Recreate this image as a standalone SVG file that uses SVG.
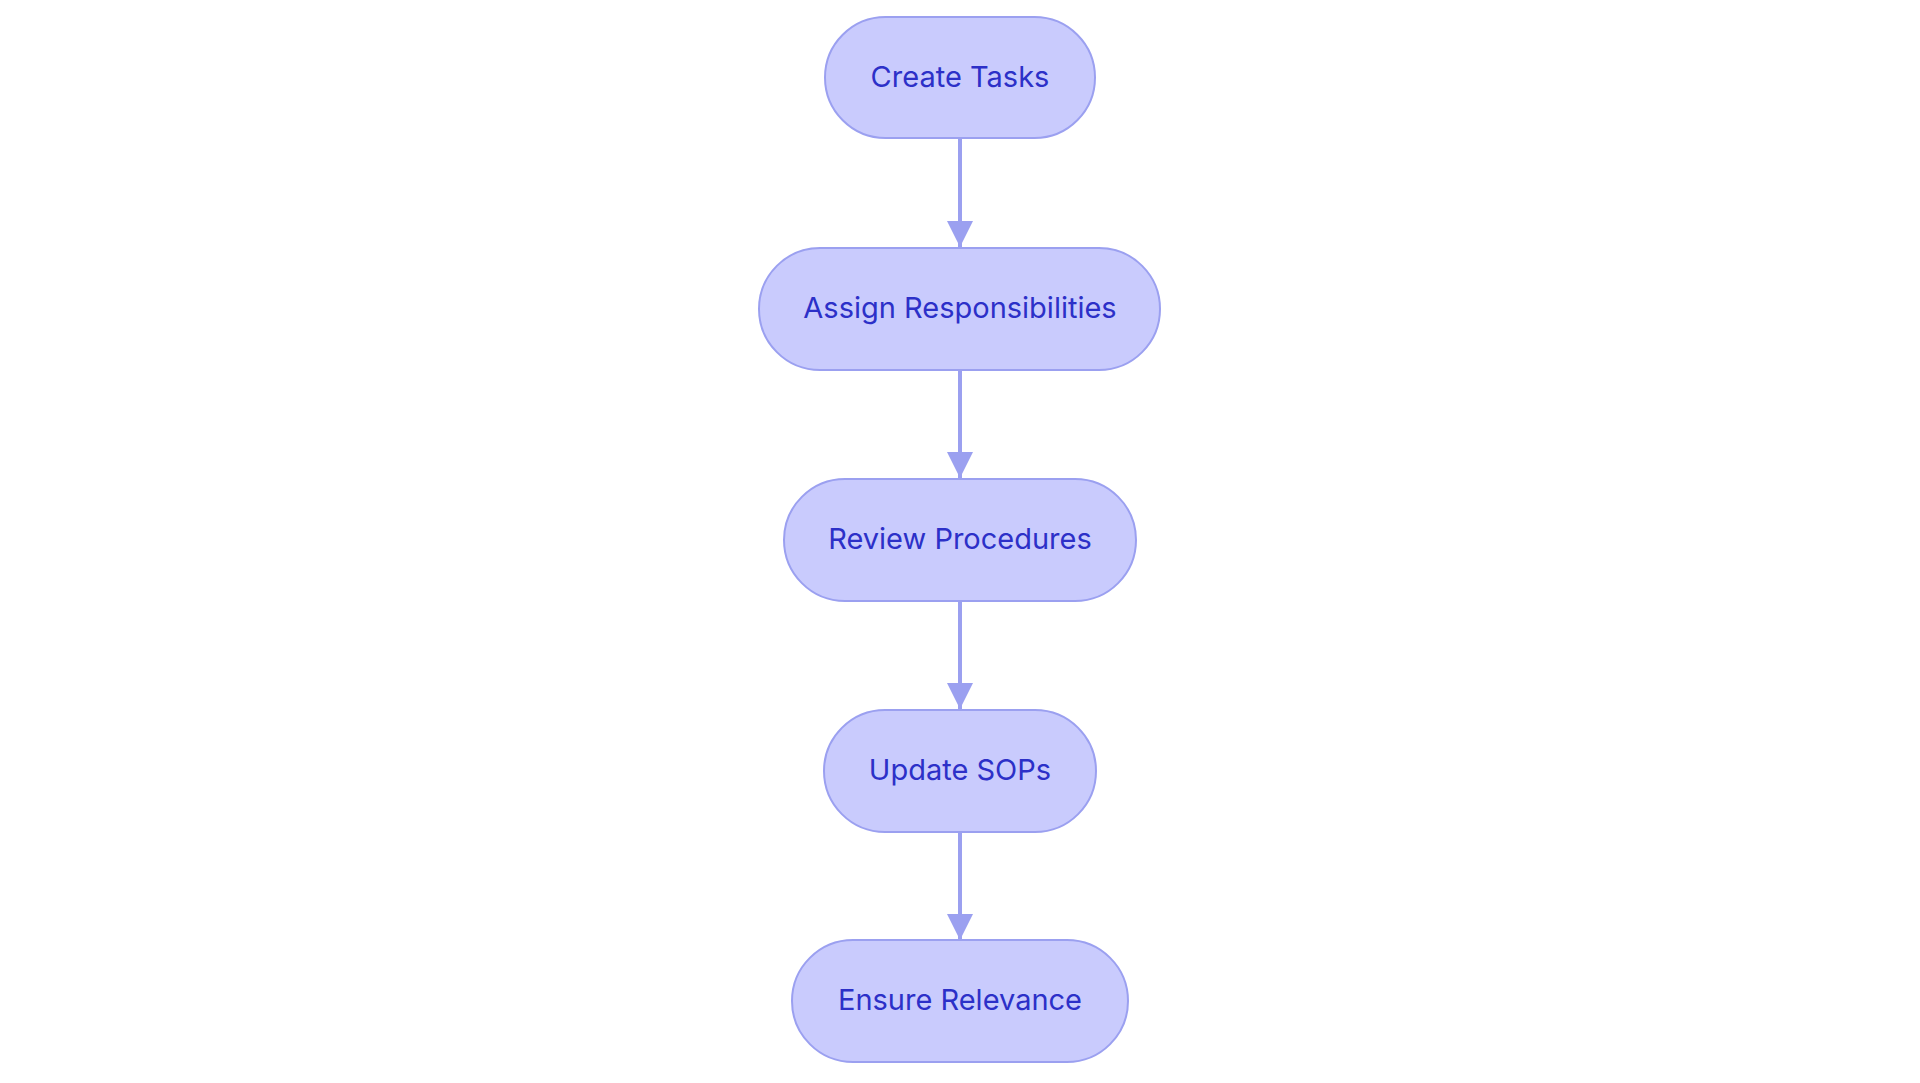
<svg xmlns="http://www.w3.org/2000/svg" width="1920" height="1083" viewBox="0 0 1920 1083">
<style>
.node rect{fill:#C9CBFD;stroke:#9BA0F0;stroke-width:2}
.node text{font-family:Inter,"Noto Sans","Liberation Sans",sans-serif;font-size:29px;fill:#2C30C8;text-anchor:middle;dominant-baseline:central}
.edge{stroke:#9BA0F0;stroke-width:4;fill:none}
</style>
<defs>
<marker id="arr" markerWidth="26" markerHeight="26" refX="26" refY="13" orient="auto" markerUnits="userSpaceOnUse">
<path d="M0,0 L26,13 L0,26 Z" fill="#9BA0F0"/>
</marker>
</defs>
<rect width="1920" height="1083" fill="#FFFFFF"/>
<g id="connectors">
<line class="edge" x1="960" y1="138" x2="960" y2="247" marker-end="url(#arr)"/>
<line class="edge" x1="960" y1="370" x2="960" y2="478" marker-end="url(#arr)"/>
<line class="edge" x1="960" y1="601" x2="960" y2="709" marker-end="url(#arr)"/>
<line class="edge" x1="960" y1="832" x2="960" y2="940" marker-end="url(#arr)"/>
</g>
<g id="create-tasks" class="node">
<rect x="825" y="17" width="270" height="121" rx="60.5"/>
<text x="960" y="76">Create Tasks</text>
</g>
<g id="assign-responsibilities" class="node">
<rect x="759" y="248" width="401" height="122" rx="61"/>
<text x="960" y="307">Assign Responsibilities</text>
</g>
<g id="review-procedures" class="node">
<rect x="784" y="479" width="352" height="122" rx="61"/>
<text x="960" y="538">Review Procedures</text>
</g>
<g id="update-sops" class="node">
<rect x="824" y="710" width="272" height="122" rx="61"/>
<text x="960" y="769">Update SOPs</text>
</g>
<g id="ensure-relevance" class="node">
<rect x="792" y="940" width="336" height="122" rx="61"/>
<text x="960" y="999">Ensure Relevance</text>
</g>
</svg>
